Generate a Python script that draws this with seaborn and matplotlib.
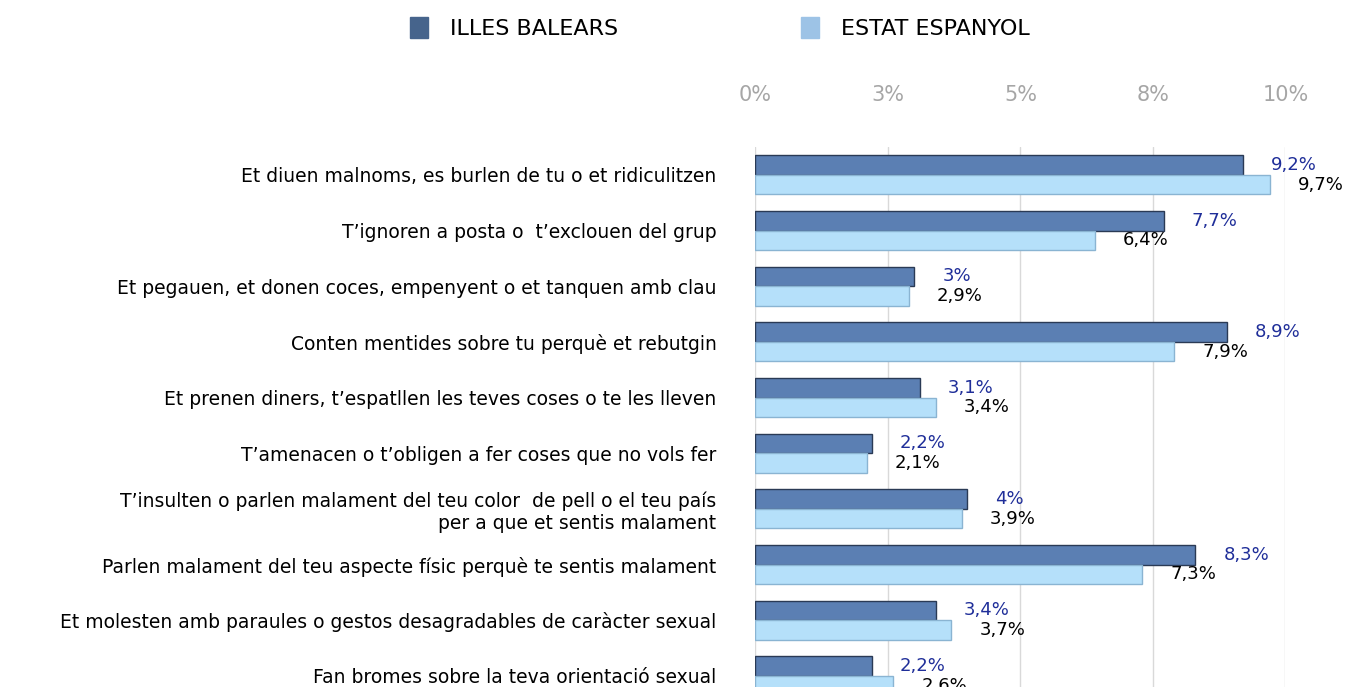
import pandas as pd
import matplotlib.pyplot as plt
import seaborn as sns
from matplotlib.patches import Patch

sns.set_style("white")
plt.rcParams['font.family'] = ['DejaVu Sans']
plt.rcParams['text.color'] = 'black'
plt.rcParams['ytick.color'] = 'black'

categories = [
    "Et diuen malnoms, es burlen de tu o et ridiculitzen",
    "T’ignoren a posta o  t’exclouen del grup",
    "Et pegauen, et donen coces, empenyent o et tanquen amb clau",
    "Conten mentides sobre tu perquè et rebutgin",
    "Et prenen diners, t’espatllen les teves coses o te les lleven",
    "T’amenacen o t’obligen a fer coses que no vols fer",
    "T’insulten o parlen malament del teu color  de pell o el teu país\nper a que et sentis malament",
    "Parlen malament del teu aspecte físic perquè te sentis malament",
    "Et molesten amb paraules o gestos desagradables de caràcter sexual",
    "Fan bromes sobre la teva orientació sexual",
]
illes_balears = [9.2, 7.7, 3.0, 8.9, 3.1, 2.2, 4.0, 8.3, 3.4, 2.2]
estat_espanyol = [9.7, 6.4, 2.9, 7.9, 3.4, 2.1, 3.9, 7.3, 3.7, 2.6]
groups = ["ILLES BALEARS", "ESTAT ESPANYOL"]
tick_values = [0, 2.5, 5, 7.5, 10]
tick_labels = ["0%", "3%", "5%", "8%", "10%"]

colors = {"ILLES BALEARS": "#5B7FB3", "ESTAT ESPANYOL": "#B5E0FA"}
edges = {"ILLES BALEARS": "#2A3A55", "ESTAT ESPANYOL": "#8AB4D2"}
label_colors = {"ILLES BALEARS": "#1F2E99", "ESTAT ESPANYOL": "black"}

df = pd.DataFrame({
    "cat": categories * 2,
    "group": [groups[0]] * len(categories) + [groups[1]] * len(categories),
    "value": illes_balears + estat_espanyol,
})

fig = plt.figure(figsize=(13.56, 6.87), dpi=100)
ax = fig.add_axes([0.557, 0.0, 0.391, 0.786])

sns.barplot(data=df, y="cat", x="value", hue="group", hue_order=groups,
            order=categories, orient="h", palette=colors, saturation=1,
            width=0.7, ax=ax, legend=False)

# bar edges + value labels
for container, g in zip(ax.containers, groups):
    for bar in container:
        bar.set_edgecolor(edges[g])
        bar.set_linewidth(1.0)
    vals = df[df["group"] == g]["value"].tolist()
    for bar, v in zip(container, vals):
        txt = f"{v:g}".replace(".", ",") + "%"
        ax.annotate(txt, (bar.get_width(), bar.get_y() + bar.get_height() / 2),
                    xytext=(28, 0), textcoords="offset pixels",
                    ha="left", va="center", fontsize=13,
                    color=label_colors[g], annotation_clip=False)

ax.set_xlim(0, 10)
ax.set_ylim(9.2, -0.5)
ax.xaxis.tick_top()
ax.set_xticks(tick_values)
ax.set_xticklabels(tick_labels, color="#A6A6A6", fontsize=15)
ax.tick_params(axis="x", length=0, pad=30)
ax.tick_params(axis="y", length=0, pad=28, labelsize=13.5, labelcolor="black")
ax.grid(axis="x", color="#D9D9D9", linewidth=1)
ax.set_axisbelow(True)
ax.set_xlabel("")
ax.set_ylabel("")
for s in ax.spines.values():
    s.set_visible(False)

handles = [Patch(facecolor="#46648C", edgecolor="#46648C"),
           Patch(facecolor="#9DC3E6", edgecolor="#9DC3E6")]
fig.legend(handles, groups, loc="center", bbox_to_anchor=(0.531, 0.959),
           ncol=2, frameon=False, fontsize=16, handlelength=0.8,
           handleheight=1.1, handletextpad=1.0, columnspacing=8.2,
           labelcolor="black")

fig.savefig("out.png", dpi=100)
